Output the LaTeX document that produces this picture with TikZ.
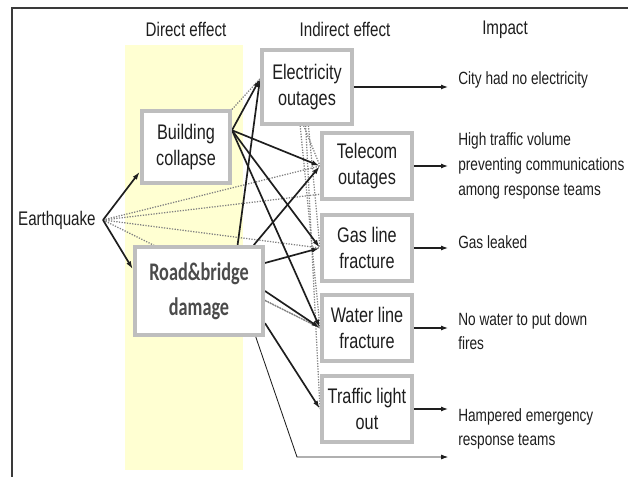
\documentclass[tikz,border=0pt]{standalone}
\usepackage{fontspec}
\setmainfont{Liberation Sans}[FakeStretch=0.77]
\newfontfamily\roadfont{Carlito}[FakeStretch=0.72]
\usetikzlibrary{arrows.meta,backgrounds}
\definecolor{Ink}{HTML}{1E1E1E}
\definecolor{BoxLine}{HTML}{BEBEBE}
\definecolor{Band}{HTML}{FFFFD2}
\definecolor{Frame}{HTML}{3A3A3A}
\definecolor{Dots}{HTML}{808080}
\tikzset{
 effect/.style={draw=BoxLine, line width=2.8pt, fill=white, align=center, inner sep=2pt, minimum width=2.25cm, minimum height=1.65cm, font=\fontsize{15}{18.5}\selectfont, text=Ink},
 header/.style={font=\fontsize{14}{17}\selectfont, text=Ink},
 impact/.style={anchor=west, align=left, inner sep=0pt, font=\fontsize{12.6}{17.5}\selectfont, text=Ink},
 link/.style={-{Latex[length=6pt,width=3.5pt]}, line width=1.2pt, draw=Ink},
 weak/.style={densely dotted, line width=0.9pt, draw=Dots},
 result/.style={-{Latex[length=5pt,width=3.5pt]}, line width=1.2pt, draw=Ink, shorten >=7pt},
 thinlink/.style={-{Latex[length=5pt,width=3.5pt]}, line width=0.6pt, draw=Ink, shorten >=7pt}
}

\begin{document}
\begin{tikzpicture}[x=0.025cm, y=-0.025cm]
\useasboundingbox (0,0) rectangle (628,477);
\draw[Frame, line width=1.2pt] (12,477) -- (12,8) -- (628,8);

% column headers
\node[header] (hdirect) at (186,29) {Direct effect};
\node[header] (hindirect) at (345,29) {Indirect effect};
\node[header] (himpact) at (505,30) {Impact};

% causes and effects
\node[header, anchor=east, inner sep=5pt] (eq) at (103,220) {Earthquake};
\node[effect, minimum width=2.2cm, minimum height=1.78cm] (bc) at (186,147) {Building\\collapse};
\node[effect, minimum width=3.2cm, minimum height=2.2cm, font=\roadfont\bfseries\fontsize{18}{25}\selectfont, text=Ink!80] (rb) at (199,291) {Road\&bridge\\damage};
\node[effect, minimum height=1.83cm] (el) at (307,87) {Electricity\\outages};
\node[effect] (tc) at (367,166) {Telecom\\outages};
\node[effect] (gl) at (367,248) {Gas line\\fracture};
\node[effect] (wl) at (367,328) {Water line\\fracture};
\node[effect] (tl) at (367,409) {Traffic light\\out};

% impacts
\node[impact] (im1) at (458,80) {City had no electricity};
\node[impact] (im2) at (458,166) {High traffic volume\\preventing communications\\among response teams};
\node[impact] (im3) at (458,242) {Gas leaked};
\node[impact] (im4) at (458,331) {No water to put down\\fires};
\node[impact] (im5) at (458,429) {Hampered emergency\\response teams};
\coordinate (low) at (297,457);

\begin{scope}[on background layer]
\fill[Band] (125,45) rectangle (243,470);
% weak links
\draw[weak] (eq.east) -- (tc.west);
\draw[weak] (eq.east) -- (tc.211);
\draw[weak] (eq.east) -- (gl.west);
\draw[weak] (eq.east) -- (wl.west);
\draw[weak] (bc.north east) -- (el.170);
\draw[weak] (rb.-8) -- (wl.west);
\draw[weak] (el.-95) -- (tc.west);
\draw[weak] (el.-88) -- (gl.west);
\draw[weak] (el.-100) -- (wl.west);
\draw[weak] (el.-92) -- (tl.west);
% direct links
\draw[link] (eq.east) -- (bc.208);
\draw[link] (eq.east) -- (rb.162);
\draw[link] (bc.20) -- (el.170);
\draw[link] (bc.20) -- (tc.west);
\draw[link] (bc.20) -- (gl.west);
\draw[link] (bc.20) -- (wl.west);
\draw[link] (rb.50) -- (el.170);
\draw[link] (rb.40) -- (tc.west);
\draw[link] (rb.23) -- (gl.west);
\draw[link] (rb.east) -- (wl.west);
\draw[link] (rb.-26) -- (tl.west);
\end{scope}

% effect to impact
\draw[result] (el.east) -- (el.east -| im1.west);
\draw[result] (tc.east) -- (tc.east -| im2.west);
\draw[result] (gl.east) -- (gl.east -| im3.west);
\draw[result] (wl.east) -- (wl.east -| im4.west);
\draw[result] (tl.east) -- (tl.east -| im5.west);
\draw[thinlink] (rb.-39) -- (low) -- (low -| im5.west);
\end{tikzpicture}
\end{document}
